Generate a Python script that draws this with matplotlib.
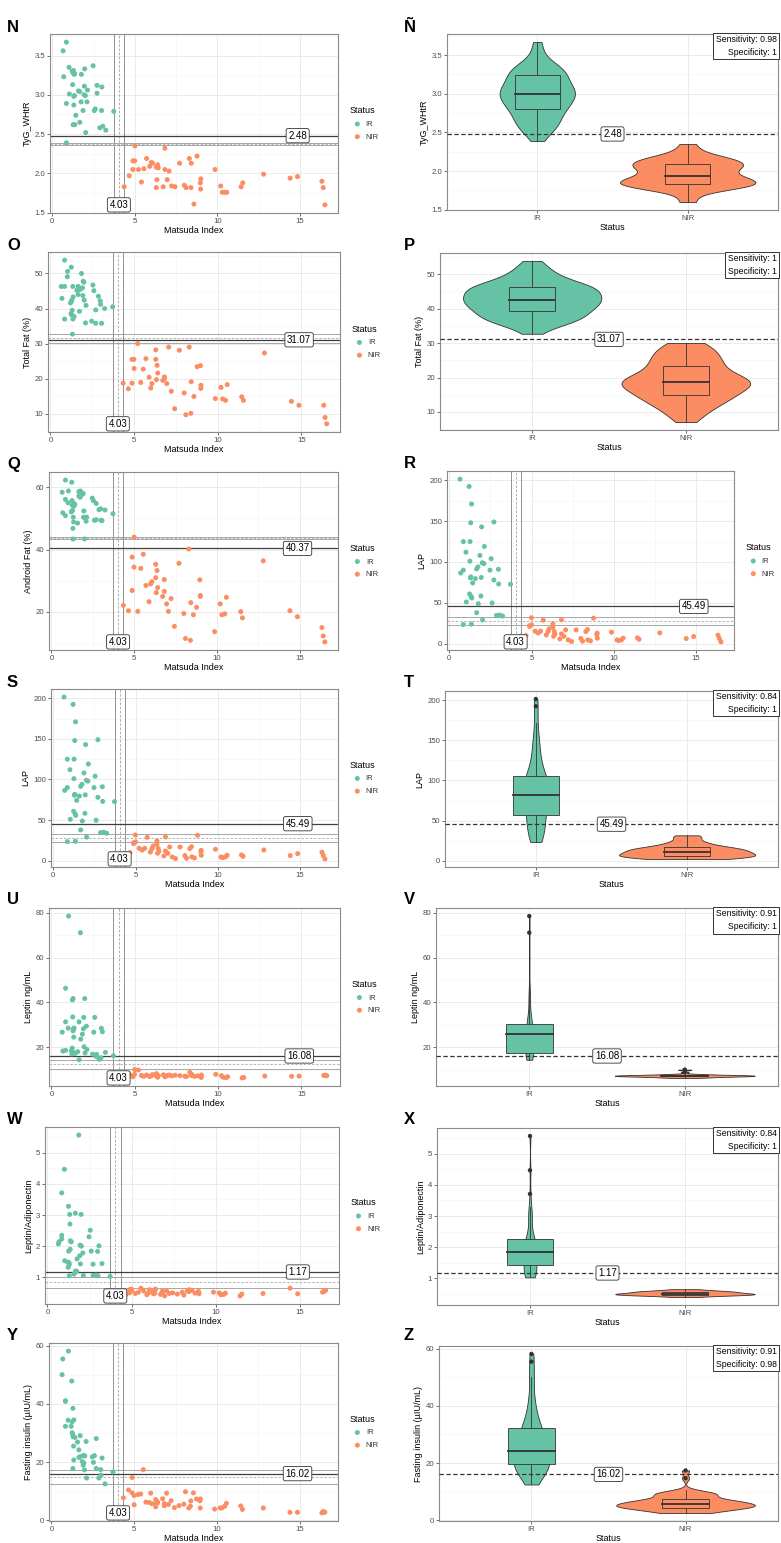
import numpy as np
import matplotlib
matplotlib.use("Agg")
import matplotlib.pyplot as plt
from matplotlib.patches import Rectangle
from matplotlib.ticker import MultipleLocator, FormatStrFormatter

plt.rcParams['font.family'] = ['Liberation Sans', 'DejaVu Sans']

# Matsuda index per subject (same subjects in every panel)
matsuda_ir = [0.65, 0.69, 0.85, 0.85, 0.85, 1.01, 1.03, 1.20, 1.23, 1.25,
              1.26, 1.28, 1.30, 1.30, 1.32, 1.34, 1.35, 1.36, 1.42, 1.58,
              1.66, 1.66, 1.74, 1.76, 1.86, 1.92, 1.94, 1.96, 2.00, 2.02,
              2.10, 2.13, 2.47, 2.54, 2.60, 2.71, 2.71, 2.87, 2.98, 3.00,
              3.06, 3.24, 3.72]
matsuda_nir = [4.35, 4.66, 4.88, 4.88, 4.99, 5.00, 5.22, 5.40, 5.55, 5.71,
               5.90, 6.00, 6.07, 6.30, 6.30, 6.34, 6.38, 6.42, 6.72, 6.82,
               6.82, 6.96, 7.07, 7.23, 7.43, 7.71, 8.00, 8.10, 8.30, 8.40,
               8.42, 8.58, 8.77, 8.97, 8.99, 9.00, 9.86, 10.20, 10.30, 10.47,
               10.57, 11.44, 11.54, 12.80, 14.41, 14.86, 16.34, 16.42, 16.52]

tyg_ir = [3.56, 3.23, 3.67, 2.89, 2.39, 3.35, 3.01, 3.30, 3.13, 3.28,
          2.62, 3.31, 2.98, 2.87, 3.26, 2.99, 3.27, 2.62, 2.74, 3.05,
          3.04, 2.65, 2.91, 3.26, 2.80, 3.00, 3.11, 3.33, 2.99, 2.52,
          2.91, 3.06, 3.37, 2.80, 2.82, 3.12, 3.02, 2.58, 2.80, 3.10,
          2.60, 2.55, 2.79]
tyg_nir = [1.83, 1.97, 2.16, 2.05, 2.16, 2.35, 2.05, 1.89, 2.06, 2.19,
           2.09, 2.14, 2.13, 2.08, 1.82, 1.92, 2.11, 2.07, 1.83, 2.32,
           2.05, 1.92, 2.03, 1.84, 1.83, 2.13, 1.85, 1.82, 2.19, 1.82,
           2.13, 1.61, 2.22, 1.88, 1.80, 1.93, 2.05, 1.84, 1.76, 1.76,
           1.76, 1.83, 1.88, 1.99, 1.94, 1.96, 1.90, 1.82, 1.60]

fat_ir = [46.3, 42.9, 53.8, 46.3, 37.0, 49.1, 50.6, 41.6, 38.5, 51.8,
          42.0, 42.4, 39.5, 38.1, 32.7, 46.3, 37.0, 43.3, 37.7, 45.2,
          44.0, 46.3, 39.2, 45.4, 50.0, 45.9, 43.7, 47.8, 47.5, 42.4,
          35.9, 40.9, 36.4, 46.7, 45.1, 35.8, 39.6, 43.5, 42.2, 41.2,
          35.8, 40.0, 40.5]
fat_nir = [18.7, 17.1, 25.5, 18.7, 25.5, 22.9, 30.0, 18.9, 22.7, 25.7,
           20.4, 17.3, 18.6, 28.2, 25.5, 19.7, 23.8, 21.6, 19.5, 20.0,
           20.5, 18.6, 29.0, 16.4, 11.4, 28.1, 15.9, 9.7, 29.0, 10.1,
           19.1, 14.9, 23.4, 23.7, 17.2, 18.1, 14.3, 17.5, 14.2, 13.8,
           18.3, 14.8, 13.8, 27.3, 13.5, 12.4, 12.4, 8.9, 7.1]

android_ir = [58.4, 51.8, 62.3, 50.9, 56.1, 55.0, 58.8, 52.1, 61.6, 55.7,
              54.2, 52.6, 43.4, 46.8, 50.4, 48.9, 54.8, 54.0, 54.5, 48.5,
              58.6, 57.2, 56.8, 58.8, 57.7, 58.0, 50.4, 52.4, 43.4, 50.2,
              49.1, 50.4, 56.5, 55.7, 49.4, 49.6, 54.8, 52.8, 53.1, 49.4,
              49.3, 52.7, 51.5]
android_nir = [22.1, 20.4, 37.6, 26.9, 34.4, 44.0, 20.2, 34.0, 38.5, 28.5,
               23.3, 29.0, 29.7, 35.3, 31.0, 26.2, 33.3, 27.8, 25.0, 30.4,
               26.6, 22.6, 20.2, 24.3, 15.4, 35.6, 19.5, 11.5, 40.2, 10.9,
               23.0, 19.1, 21.5, 30.3, 25.0, 25.3, 13.7, 22.6, 19.1, 19.4,
               24.7, 20.1, 18.1, 36.4, 20.4, 18.5, 15.0, 12.3, 10.4]

lap_ir = [201.5, 86.5, 125, 90, 23.4, 112, 50.9, 192.5, 60.8, 101,
          125, 80.5, 81.7, 148, 57.9, 23.8, 171, 55.8, 74.3, 79.6,
          37.8, 91.5, 94, 48.8, 108, 58.3, 81, 143, 99, 29,
          98, 119, 90, 104, 49.7, 78, 149, 34.5, 91, 73,
          35, 33.7, 72.7]
lap_nir = [9.0, 9.8, 22, 21, 31.6, 23, 15.2, 13, 15.2, 28.7,
           10.6, 14.8, 18, 20, 24.2, 9, 14.8, 11.5, 5.7, 29.1,
           11.9, 9, 16.8, 4.5, 2.5, 16.8, 6.2, 2.9, 14.8, 17.2,
           4.5, 3.3, 31.2, 11, 12.7, 6.6, 14, 4.5, 3.7, 4.5,
           6.6, 7, 5.3, 13.1, 6.2, 8.6, 10.3, 6.2, 2.1]

leptin_ir = [26.7, 18.3, 46.3, 31.3, 18.6, 28.5, 78.5, 18.4, 17.0, 19.6,
             41.1, 33.5, 27.3, 41.7, 28.1, 24.5, 17.5, 28.5, 17.2, 18.0,
             31.3, 14.4, 71.1, 23.6, 25.8, 28.2, 33.3, 20.2, 41.7, 17.4,
             29.4, 19.0, 16.9, 26.7, 33.3, 15.8, 16.8, 14.6, 15.3, 28.4,
             26.9, 17.7, 16.2]
leptin_nir = [7.5, 8.0, 7.2, 6.8, 7.9, 10.0, 9.8, 7.4, 7.0, 7.6,
              6.9, 7.3, 7.8, 8.2, 7.1, 7.5, 6.6, 7.3, 7.7, 7.0,
              6.8, 7.4, 7.6, 7.2, 7.5, 7.3, 7.1, 6.9, 8.8, 7.4,
              7.8, 7.0, 7.2, 6.9, 6.5, 7.6, 7.9, 7.3, 6.6, 6.4,
              6.8, 6.3, 6.5, 7.1, 7.0, 7.1, 7.4, 7.5, 7.3]

la_ir = [2.07, 2.14, 3.71, 2.23, 2.35, 4.47, 1.53, 1.49, 1.32, 3.28,
         1.84, 1.47, 1.41, 1.05, 3.02, 2.71, 1.90, 2.17, 2.14, 1.10,
         1.20, 3.06, 1.19, 1.59, 5.57, 1.69, 2.03, 1.43, 3.02, 2.00,
         1.78, 1.06, 2.30, 2.51, 1.84, 1.06, 1.42, 1.07, 1.83, 1.05,
         2.01, 1.44, 1.03]
la_nir = [0.55, 0.45, 0.60, 0.50, 0.62, 0.58, 0.48, 0.52, 0.65, 0.56,
          0.44, 0.50, 0.60, 0.53, 0.47, 0.58, 0.49, 0.62, 0.45, 0.51,
          0.55, 0.40, 0.57, 0.48, 0.50, 0.46, 0.52, 0.43, 0.56, 0.54,
          0.60, 0.58, 0.49, 0.55, 0.51, 0.47, 0.52, 0.50, 0.44, 0.45,
          0.49, 0.40, 0.46, 0.48, 0.65, 0.47, 0.52, 0.55, 0.58]

insulin_ir = [50.1, 55.5, 40.9, 41.1, 32.3, 34.4, 58.2, 32.3, 47.9, 33.9,
              30.1, 29.6, 38.5, 17.8, 28.7, 25.5, 20.7, 34.5, 28.5, 26.9,
              24.2, 21.6, 29.1, 21.9, 20.2, 18.9, 22.3, 19.7, 17.3, 22.1,
              27.1, 14.5, 21.8, 19.9, 22.2, 28.1, 17.8, 14.5, 17.4, 15.5,
              21.4, 12.5, 16.6]
insulin_nir = [7.7, 10.4, 14.7, 9.4, 8.5, 5.3, 8.8, 9.0, 17.4, 6.2,
               6.1, 9.3, 5.7, 4.6, 7.1, 5.7, 6.5, 6.0, 7.4, 5.7,
               5.0, 9.3, 5.4, 6.7, 4.3, 5.0, 5.5, 9.8, 4.2, 4.8,
               6.6, 9.4, 7.3, 6.7, 4.2, 7.3, 3.8, 4.2, 4.2, 4.8,
               5.8, 4.9, 3.7, 4.2, 2.7, 2.7, 2.5, 3.0, 2.7]

# Matsuda cut-off and its band
matsuda_cut = 4.03
matsuda_band = (3.72, 4.35)

IR_COL = '#66C2A5'
NIR_COL = '#FC8D62'
DARK = '#333333'

W, H = 781, 1543
fig = plt.figure(figsize=(W / 100, H / 100), dpi=100)


def add_ax(l, t, r, b):
    return fig.add_axes([l / W, 1 - b / H, (r - l) / W, (b - t) / H])


def expand(vals):
    lo, hi = min(vals), max(vals)
    d = (hi - lo) * 0.05
    return lo - d, hi + d


def bw_style(ax, ystep, yfmt):
    for s in ax.spines.values():
        s.set_color('#8a8a8a')
        s.set_linewidth(0.8)
    ax.yaxis.set_major_locator(MultipleLocator(ystep))
    ax.yaxis.set_minor_locator(MultipleLocator(ystep / 2))
    ax.yaxis.set_major_formatter(FormatStrFormatter(yfmt))
    ax.grid(True, which='major', color='#ebebeb', lw=0.7)
    ax.grid(True, which='minor', color='#f5f5f5', lw=0.5)
    ax.set_axisbelow(True)
    ax.tick_params(which='major', length=2, width=0.5, color=DARK,
                   labelsize=5.6, labelcolor='#4d4d4d', pad=1.5)
    ax.tick_params(which='minor', length=0)


LABEL_BOX = dict(boxstyle='round,pad=0.22,rounding_size=0.2', fc='white',
                 ec=DARK, lw=0.6)


def scatter_panel(ax, y_ir, y_nir, ylabel, thr, band, ystep, yfmt):
    ax.scatter(matsuda_ir, y_ir, s=13, color=IR_COL, edgecolors='none',
               label='IR', zorder=3)
    ax.scatter(matsuda_nir, y_nir, s=13, color=NIR_COL, edgecolors='none',
               label='NIR', zorder=3)
    for xv in matsuda_band:
        ax.axvline(xv, color='#808080', lw=0.6, zorder=2)
    ax.axvline(matsuda_cut, color='#a0a0a0', lw=0.6, ls=(0, (3, 2)), zorder=2)
    ax.axhline(band[0], color='#999999', lw=0.6, zorder=2)
    ax.axhline(band[2], color='#999999', lw=0.6, zorder=2)
    ax.axhline(band[1], color='#aaaaaa', lw=0.6, ls=(0, (3, 2)), zorder=2)
    ax.axhline(thr, color='#404040', lw=0.9, zorder=2)

    xs = matsuda_ir + matsuda_nir
    ys = y_ir + y_nir
    ax.set_xlim(*expand(xs))
    ax.set_ylim(*expand(ys))
    ax.text(matsuda_cut, min(ys), f'{matsuda_cut:.2f}', ha='center',
            va='center', fontsize=7, bbox=LABEL_BOX, zorder=5)
    ax.text(0.9 * max(xs), thr, f'{thr:.2f}', ha='center', va='center',
            fontsize=7, bbox=LABEL_BOX, zorder=5)

    bw_style(ax, ystep, yfmt)
    ax.xaxis.set_major_locator(MultipleLocator(5))
    ax.xaxis.set_minor_locator(MultipleLocator(2.5))
    ax.set_xlabel('Matsuda Index', fontsize=6.5, labelpad=1)
    ax.set_ylabel(ylabel, fontsize=6.5, labelpad=2)
    leg = ax.legend(title='Status', loc='center left',
                    bbox_to_anchor=(1.03, 0.5), frameon=False, fontsize=5.5,
                    title_fontsize=6.5, handletextpad=0.1, borderaxespad=0,
                    labelspacing=0.7, alignment='left')
    for t in leg.get_texts():
        t.set_color('#333333')


def kde_nrd0(vals, grid):
    v = np.asarray(vals, float)
    n = len(v)
    q75, q25 = np.percentile(v, [75, 25])
    s = min(v.std(ddof=1), (q75 - q25) / 1.34)
    bw = 0.9 * s * n ** -0.2
    z = (grid[:, None] - v[None, :]) / bw
    return np.exp(-0.5 * z ** 2).sum(axis=1) / (n * bw * np.sqrt(2 * np.pi))


def violin_panel(ax, y_ir, y_nir, ylabel, thr, sens, spec, ystep, yfmt):
    groups = [(1, y_ir, IR_COL), (2, y_nir, NIR_COL)]
    dens = []
    for pos, vals, col in groups:
        g = np.linspace(min(vals), max(vals), 512)
        dens.append((g, kde_nrd0(vals, g)))
    dmax = max(d.max() for g, d in dens)

    for (pos, vals, col), (g, d) in zip(groups, dens):
        w = 0.45 * d / dmax
        ax.fill_betweenx(g, pos - w, pos + w, facecolor=col, edgecolor=DARK,
                         lw=0.6, zorder=2)
        v = np.asarray(vals, float)
        q1, med, q3 = np.percentile(v, [25, 50, 75])
        iqr = q3 - q1
        keep = (v >= q1 - 1.5 * iqr) & (v <= q3 + 1.5 * iqr)
        lo, hi = v[keep].min(), v[keep].max()
        out = v[~keep]
        ax.plot([pos, pos], [lo, q1], color=DARK, lw=0.6, zorder=3)
        ax.plot([pos, pos], [q3, hi], color=DARK, lw=0.6, zorder=3)
        ax.add_patch(Rectangle((pos - 0.15, q1), 0.3, q3 - q1, fc=col,
                               ec=DARK, lw=0.6, zorder=3))
        ax.plot([pos - 0.15, pos + 0.15], [med, med], color=DARK, lw=1.3,
                zorder=4)
        if len(out):
            ax.scatter(np.full(len(out), pos), out, s=10, color=DARK,
                       edgecolors='none', zorder=4)

    ax.axhline(thr, color=DARK, lw=0.9, ls=(0, (3.5, 2)), zorder=5)
    ax.text(1.5, thr, f'{thr:.2f}', ha='center', va='center', fontsize=7,
            bbox=LABEL_BOX, zorder=6)
    ax.text(0.996, 0.992, f'Sensitivity: {sens}\nSpecificity: {spec}',
            transform=ax.transAxes, ha='right', va='top', fontsize=6.2,
            linespacing=1.5, zorder=6,
            bbox=dict(boxstyle='square,pad=0.3', fc='white', ec=DARK, lw=0.7))

    ax.set_xlim(0.4, 2.6)
    ax.set_ylim(*expand(y_ir + y_nir))
    bw_style(ax, ystep, yfmt)
    ax.set_xticks([1, 2])
    ax.set_xticklabels(['IR', 'NIR'])
    ax.set_xlabel('Status', fontsize=6.5, labelpad=1)
    ax.set_ylabel(ylabel, fontsize=6.5, labelpad=2)


def letter(x, y, s):
    fig.text(x / W, 1 - y / H, s, fontsize=12, fontweight='bold',
             ha='left', va='center')


# row 1: TyG_WHtR
ax = add_ax(50, 34, 338, 213)
scatter_panel(ax, tyg_ir, tyg_nir, 'TyG_WHtR', 2.48, (2.36, 2.372, 2.39), 0.5, '%.1f')
ax = add_ax(447, 34, 778, 210)
violin_panel(ax, tyg_ir, tyg_nir, 'TyG_WHtR', 2.48, 0.98, 1, 0.5, '%.1f')
letter(7, 27, 'N')
letter(404, 27, 'Ñ')

# row 2: Total fat
ax = add_ax(48, 252, 340, 432)
scatter_panel(ax, fat_ir, fat_nir, 'Total Fat (%)', 31.07, (30.2, 31.45, 32.75), 10, '%d')
ax = add_ax(440, 253, 778, 430)
violin_panel(ax, fat_ir, fat_nir, 'Total Fat (%)', 31.07, 1, 1, 10, '%d')
letter(7, 245, 'O')
letter(404, 245, 'P')

# row 3: Android fat and LAP
ax = add_ax(49, 472, 338, 650)
scatter_panel(ax, android_ir, android_nir, 'Android Fat (%)', 40.37, (43.4, 43.65, 43.9), 20, '%d')
ax = add_ax(447, 471, 734, 650)
scatter_panel(ax, lap_ir, lap_nir, 'LAP', 45.49, (23.0, 27.6, 32.2), 50, '%d')
letter(7, 464, 'Q')
letter(404, 464, 'R')

# row 4: LAP
ax = add_ax(51, 689, 338, 867)
scatter_panel(ax, lap_ir, lap_nir, 'LAP', 45.49, (23.0, 27.6, 32.2), 50, '%d')
ax = add_ax(445, 691, 778, 867)
violin_panel(ax, lap_ir, lap_nir, 'LAP', 45.49, 0.84, 1, 50, '%d')
letter(7, 682, 'S')
letter(404, 682, 'T')

# row 5: Leptin
ax = add_ax(49, 908, 340, 1086)
scatter_panel(ax, leptin_ir, leptin_nir, 'Leptin ng/mL', 16.08, (10.1, 12.3, 14.4), 20, '%d')
ax = add_ax(436, 908, 778, 1086)
violin_panel(ax, leptin_ir, leptin_nir, 'Leptin ng/mL', 16.08, 0.91, 1, 20, '%d')
letter(7, 900, 'U')
letter(404, 900, 'V')

# row 6: Leptin/Adiponectin
ax = add_ax(45, 1127, 339, 1304)
scatter_panel(ax, la_ir, la_nir, 'Leptin/Adiponectin', 1.17, (0.65, 0.84, 1.02), 1, '%d')
ax = add_ax(437, 1128, 778, 1305)
violin_panel(ax, la_ir, la_nir, 'Leptin/Adiponectin', 1.17, 0.84, 1, 1, '%d')
letter(7, 1119, 'W')
letter(404, 1119, 'X')

# row 7: Fasting insulin
ax = add_ax(49, 1343, 338, 1521)
scatter_panel(ax, insulin_ir, insulin_nir, 'Fasting insulin (µIU/mL)', 16.02, (12.6, 14.9, 17.3), 20, '%d')
ax = add_ax(439, 1346, 778, 1521)
violin_panel(ax, insulin_ir, insulin_nir, 'Fasting insulin (µIU/mL)', 16.02, 0.91, 0.98, 20, '%d')
letter(7, 1336, 'Y')
letter(404, 1336, 'Z')

fig.savefig('out.png', dpi=100, facecolor='white')
